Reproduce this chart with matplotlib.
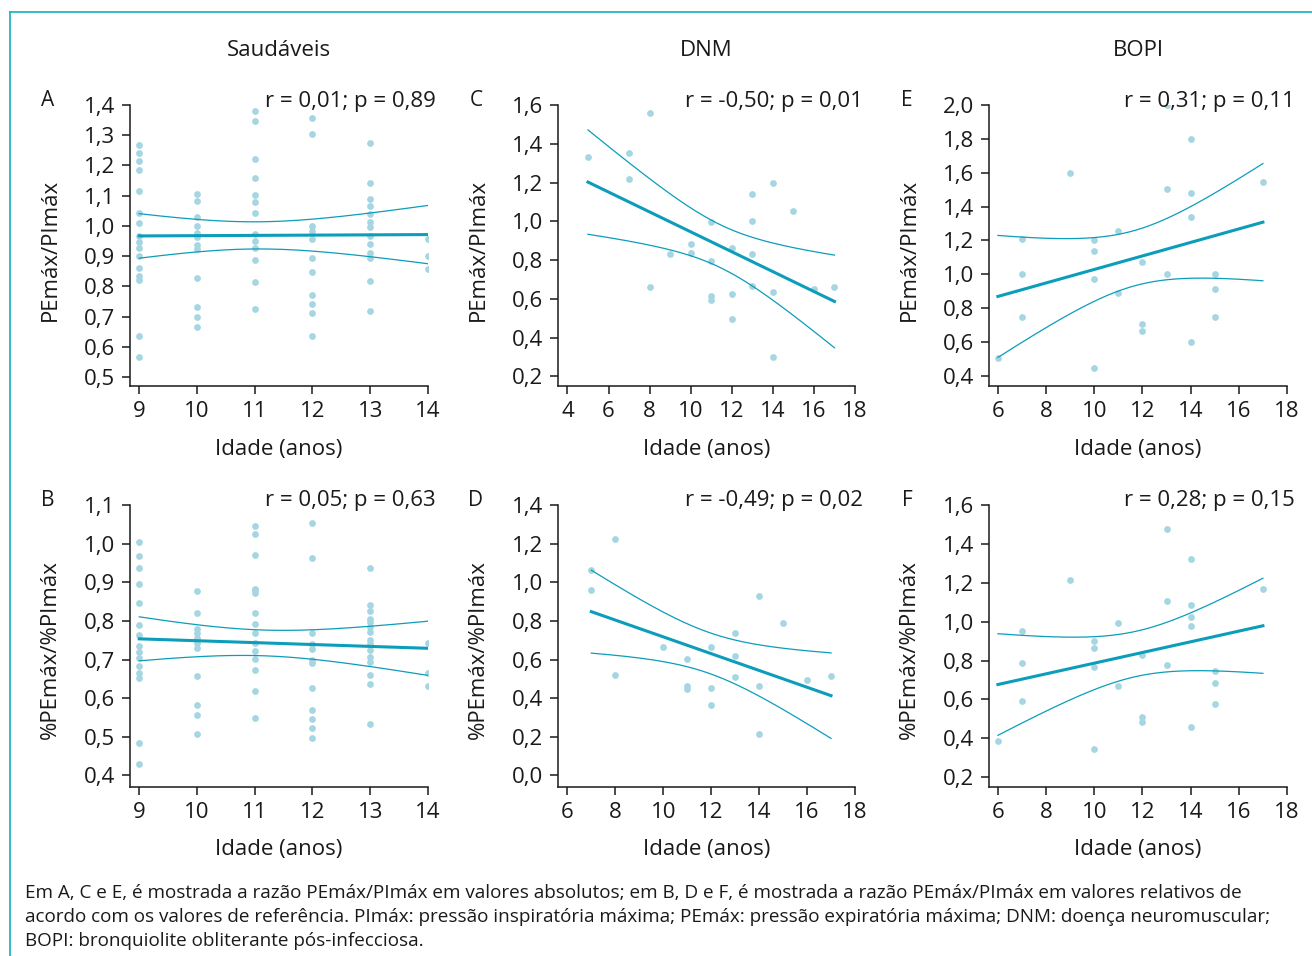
import numpy as np
import matplotlib.pyplot as plt
from matplotlib.ticker import FuncFormatter

plt.rcParams['font.family'] = ['Open Sans', 'DejaVu Sans']

W, H = 1312, 956

# --- data (age in years, ratio) ---
# A: Saudáveis, PEmáx/PImáx
a_x = [9]*16 + [10]*12 + [11]*13 + [12]*11 + [13]*13 + [14]*3
a_y = [1.267, 1.240, 1.214, 1.185, 1.116, 1.041, 1.008, 0.966, 0.947, 0.928, 0.900, 0.862, 0.833, 0.820, 0.636, 0.566,
       1.105, 1.081, 1.029, 1.000, 0.977, 0.964, 0.937, 0.922, 0.826, 0.730, 0.700, 0.666,
       1.381, 1.348, 1.222, 1.159, 1.102, 1.078, 1.042, 0.973, 0.949, 0.927, 0.887, 0.813, 0.725,
       1.358, 1.305, 1.000, 0.984, 0.956, 0.895, 0.846, 0.772, 0.741, 0.713, 0.636,
       1.273, 1.141, 1.088, 1.065, 1.039, 1.014, 0.997, 0.967, 0.940, 0.911, 0.892, 0.819, 0.718,
       0.957, 0.901, 0.857]

# B: Saudáveis, %PEmáx/%PImáx
b_x = [9]*15 + [10]*11 + [11]*15 + [12]*12 + [13]*15 + [14]*3
b_y = [1.005, 0.967, 0.938, 0.896, 0.846, 0.790, 0.764, 0.735, 0.720, 0.704, 0.682, 0.664, 0.651, 0.483, 0.429,
       0.878, 0.820, 0.778, 0.768, 0.756, 0.743, 0.730, 0.658, 0.581, 0.556, 0.507,
       1.046, 1.024, 0.970, 0.883, 0.879, 0.871, 0.821, 0.792, 0.769, 0.742, 0.721, 0.702, 0.672, 0.619, 0.549,
       1.053, 0.962, 0.768, 0.741, 0.728, 0.699, 0.692, 0.627, 0.570, 0.546, 0.524, 0.496,
       0.938, 0.841, 0.825, 0.805, 0.798, 0.784, 0.771, 0.751, 0.739, 0.725, 0.707, 0.693, 0.659, 0.636, 0.532,
       0.743, 0.664, 0.631]

# C: DNM, PEmáx/PImáx
c_x = [5, 7, 7, 8, 8, 9, 10, 10, 11, 11, 11, 11, 12, 12, 12, 13, 13, 13, 13, 14, 14, 14, 15, 16, 17]
c_y = [1.33, 1.35, 1.22, 1.56, 0.66, 0.83, 0.885, 0.837, 0.995, 0.796, 0.615, 0.593, 0.861, 0.626, 0.495,
       1.14, 0.999, 0.832, 0.665, 1.20, 0.636, 0.301, 1.052, 0.652, 0.662]

# D: DNM, %PEmáx/%PImáx
d_x = [7, 7, 8, 8, 10, 11, 11, 11, 12, 12, 12, 13, 13, 13, 14, 14, 14, 15, 16, 17]
d_y = [1.065, 0.962, 1.225, 0.520, 0.665, 0.603, 0.464, 0.445, 0.663, 0.453, 0.362, 0.735, 0.617, 0.510,
       0.927, 0.464, 0.214, 0.790, 0.493, 0.517]

# E: BOPI, PEmáx/PImáx
e_x = [6, 7, 7, 7, 9, 10, 10, 10, 10, 11, 11, 12, 12, 12, 13, 13, 13, 14, 14, 14, 14, 15, 15, 15, 17]
e_y = [0.506, 1.211, 1.0, 0.749, 1.601, 1.201, 1.14, 0.975, 0.445, 1.254, 0.887, 1.075, 0.708, 0.667,
       2.0, 1.501, 1.0, 1.802, 1.482, 1.34, 0.60, 1.0, 0.912, 0.746, 1.548]

# F: BOPI, %PEmáx/%PImáx
f_x = [6, 7, 7, 7, 9, 10, 10, 10, 10, 11, 11, 12, 12, 12, 13, 13, 13, 14, 14, 14, 14, 14, 15, 15, 15, 17]
f_y = [0.385, 0.952, 0.786, 0.591, 1.212, 0.902, 0.865, 0.767, 0.346, 0.992, 0.667, 0.827, 0.511, 0.485,
       1.475, 1.105, 0.775, 1.323, 1.085, 1.026, 0.976, 0.461, 0.744, 0.686, 0.578, 1.169]

stats = ['r = 0,01; p = 0,89', 'r = 0,05; p = 0,63', 'r = -0,50; p = 0,01',
         'r = -0,49; p = 0,02', 'r = 0,31; p = 0,11', 'r = 0,28; p = 0,15']
groups = ['Saudáveis', 'DNM', 'BOPI']
letters = ['A', 'B', 'C', 'D', 'E', 'F']
ylabels = ['PEmáx/PImáx', '%PEmáx/%PImáx']

dot_color = '#a6d6e2'
line_color = '#0b9dba'
frame_color = '#27b4c7'
ink = '#1a1a1a'
fs = 16

fig = plt.figure(figsize=(W/100, H/100), dpi=100)


def fx(px):
    return px / W


def fy(py):
    return 1 - py / H


def fit_band(x, y):
    x = np.asarray(x, float)
    y = np.asarray(y, float)
    n = len(x)
    slope, icpt = np.polyfit(x, y, 1)
    xs = np.linspace(x.min(), x.max(), 200)
    yhat = icpt + slope * xs
    resid = y - (icpt + slope * x)
    s = np.sqrt(np.sum(resid**2) / (n - 2))
    sxx = np.sum((x - x.mean())**2)
    se = s * np.sqrt(1 / n + (xs - x.mean())**2 / sxx)
    t = 1.96 + 2.5 / (n - 2)
    return xs, yhat, yhat - t * se, yhat + t * se


comma = FuncFormatter(lambda v, p: ('%.1f' % v).replace('.', ','))
comma_int = FuncFormatter(lambda v, p: '%d' % round(v))

# (x data, y data, left px, right px, top px, bottom px, xlim, ylim, xticks, yticks)
panels = [
    (a_x, a_y, 130, 428, 105, 386, (8.84, 14), (0.47, 1.4), range(9, 15), np.arange(0.5, 1.41, 0.1)),
    (b_x, b_y, 130, 428, 505, 787, (8.84, 14), (0.37, 1.1), range(9, 15), np.arange(0.4, 1.11, 0.1)),
    (c_x, c_y, 558, 855, 105, 386, (3.54, 18), (0.15, 1.6), range(4, 19, 2), np.arange(0.2, 1.61, 0.2)),
    (d_x, d_y, 558, 855, 505, 787, (5.61, 18), (-0.06, 1.4), range(6, 19, 2), np.arange(0.0, 1.41, 0.2)),
    (e_x, e_y, 989, 1287, 105, 386, (5.63, 18), (0.34, 2.0), range(6, 19, 2), np.arange(0.4, 2.01, 0.2)),
    (f_x, f_y, 989, 1287, 505, 787, (5.63, 18), (0.15, 1.6), range(6, 19, 2), np.arange(0.2, 1.61, 0.2)),
]

for i, (x, y, l, r, t, b, xl, yl, xt, yt) in enumerate(panels):
    ax = fig.add_axes([fx(l), fy(b), (r - l) / W, (b - t) / H])
    ax.scatter(x, y, s=24, color=dot_color, linewidths=0, zorder=2)
    xs, yhat, lo, hi = fit_band(x, y)
    ax.plot(xs, yhat, color=line_color, lw=2.2, zorder=3)
    ax.plot(xs, lo, color=line_color, lw=0.9, zorder=3)
    ax.plot(xs, hi, color=line_color, lw=0.9, zorder=3)
    ax.set_xlim(*xl)
    ax.set_ylim(*yl)
    ax.set_xticks(list(xt))
    ax.set_yticks(yt)
    ax.xaxis.set_major_formatter(comma_int)
    ax.yaxis.set_major_formatter(comma)
    for side in ('top', 'right'):
        ax.spines[side].set_visible(False)
    for side in ('left', 'bottom'):
        ax.spines[side].set_linewidth(1.1)
        ax.spines[side].set_color(ink)
    ax.tick_params(length=6, width=1.1, color=ink, labelsize=fs, labelcolor=ink)
    ax.tick_params(axis='x', pad=5)
    ax.tick_params(axis='y', pad=5)
    ax.patch.set_alpha(0)

    cx = (l + r) / 2
    row = i % 2
    fig.text(fx(cx), fy(449 if row == 0 else 849), 'Idade (anos)', ha='center', va='center',
             fontsize=fs, color=ink)
    fig.text(fx(l - 80), fy((t + b) / 2 + 4), ylabels[row], rotation=90, ha='center', va='center',
             fontsize=fs, color=ink)
    fig.text(fx(l - 82), fy(100 if row == 0 else 500), letters[i], ha='center', va='center',
             fontsize=15, color=ink)
    fig.text(fx(r + 8), fy(101 if row == 0 else 501), stats[i], ha='right', va='center',
             fontsize=fs, color=ink)
    if row == 0:
        fig.text(fx(cx), fy(50), groups[i // 2], ha='center', va='center', fontsize=fs, color=ink)

caption = ('Em A, C e E, é mostrada a razão PEmáx/PImáx em valores absolutos; em B, D e F, é mostrada a razão '
           'PEmáx/PImáx em valores relativos de\n'
           'acordo com os valores de referência. PImáx: pressão inspiratória máxima; PEmáx: pressão expiratória '
           'máxima; DNM: doença neuromuscular;\n'
           'BOPI: bronquiolite obliterante pós-infecciosa.')
fig.text(fx(25), fy(884), caption, ha='left', va='top', fontsize=13.6, color=ink, linespacing=1.42)

# frame lines (top and left)
fig.add_artist(plt.Line2D([fx(10), 1], [fy(12), fy(12)], color=frame_color, lw=1.3))
fig.add_artist(plt.Line2D([fx(10), fx(10)], [fy(12), 0], color=frame_color, lw=1.3))

fig.savefig('out.png', dpi=100)
